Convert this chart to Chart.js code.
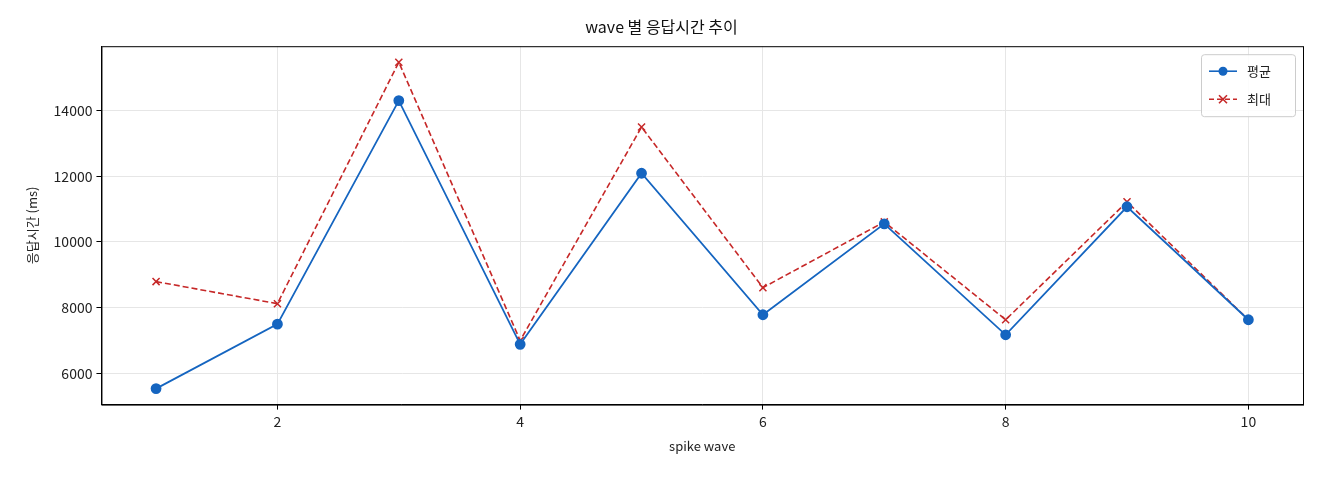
<!DOCTYPE html>
<html><head><meta charset="utf-8">
<script src="https://cdn.jsdelivr.net/npm/chart.js@4"></script>
<style>body{margin:0;background:#fff}#w{width:1320px;height:480px}</style>
</head><body><div id="w"><canvas id="c" width="1320" height="480"></canvas></div>
<script>
const waves=[1,2,3,4,5,6,7,8,9,10];
const avgMs=[5540,7500,14300,6885,12090,7786,10550,7176,11070,7634];
const maxMs=[8794,8122,15466,7000,13496,8610,10610,7634,11220,7634];
const xTicks=[2,4,6,8,10];
const yTicks=[6000,8000,10000,12000,14000];
const FONT='"Noto Sans CJK KR","Noto Sans",sans-serif';
const blue='#1565c0',red='#c62828';
const legendPlugin={id:'lg',afterDraw(ch){
 const c=ch.ctx,a=ch.chartArea;const x=a.right-102,y=a.top+8,w=94,h=62;
 c.save();c.fillStyle='rgba(255,255,255,0.85)';c.strokeStyle='#ccc';c.lineWidth=1;
 c.beginPath();c.roundRect(x+.5,y+.5,w,h,3);c.fill();c.stroke();
 const items=[['평균',blue,[],'c'],['최대',red,[5,3],'x']];
 items.forEach((it,i)=>{const yy=y+17+i*28;c.strokeStyle=it[1];c.lineWidth=1.6;c.setLineDash(it[2]);
  c.beginPath();c.moveTo(x+8,yy);c.lineTo(x+36,yy);c.stroke();c.setLineDash([]);
  if(it[3]=='c'){c.fillStyle=it[1];c.beginPath();c.arc(x+22,yy,4.5,0,7);c.fill();}
  else{c.beginPath();c.moveTo(x+18,yy-4);c.lineTo(x+26,yy+4);c.moveTo(x+18,yy+4);c.lineTo(x+26,yy-4);c.stroke();}
  c.fillStyle='#222';c.font='13px '+FONT;c.textBaseline='middle';c.fillText(it[0],x+46,yy);});
 c.strokeStyle='#000';c.lineWidth=1;c.strokeRect(a.left+.5,a.top+.5,a.right-a.left,a.bottom-a.top);c.restore();}};
new Chart(document.getElementById('c'),{type:'line',
 data:{datasets:[
  {label:'평균',data:waves.map((w,i)=>({x:w,y:avgMs[i]})),borderColor:blue,backgroundColor:blue,borderWidth:1.8,pointRadius:4.5,pointStyle:'circle',tension:0},
  {label:'최대',data:waves.map((w,i)=>({x:w,y:maxMs[i]})),borderColor:red,backgroundColor:red,borderWidth:1.6,borderDash:[6,3],pointRadius:5,pointStyle:'cross',pointRotation:45,pointBorderWidth:1.5,tension:0}]},
 options:{responsive:false,animation:false,
  layout:{padding:{left:20,right:17,top:3,bottom:22}},
  plugins:{legend:{display:false},tooltip:{enabled:false},
   title:{display:true,text:'wave 별 응답시간 추이',color:'#111',font:{family:FONT,size:16,weight:'normal'},padding:{top:14,bottom:10}}},
  scales:{
   x:{type:'linear',min:0.55,max:10.45,afterBuildTicks:s=>{s.ticks=xTicks.map(v=>({value:v}))},
    grid:{color:'#e6e6e6',drawTicks:true,tickColor:'#000',tickLength:5},border:{color:'#000'},
    ticks:{color:'#222',font:{family:FONT,size:14},padding:4},
    title:{display:true,text:'spike wave',color:'#222',font:{family:FONT,size:13},padding:{top:4}}},
   y:{min:5053,max:15954,afterBuildTicks:s=>{s.ticks=yTicks.map(v=>({value:v}))},
    grid:{color:'#e6e6e6',tickColor:'#000',tickLength:5},border:{color:'#000'},
    ticks:{color:'#222',font:{family:FONT,size:14},padding:4,callback:v=>String(v)},
    title:{display:true,text:'응답시간 (ms)',color:'#222',font:{family:FONT,size:13},padding:{bottom:10}}}}},
 plugins:[legendPlugin]});
</script></body></html>
